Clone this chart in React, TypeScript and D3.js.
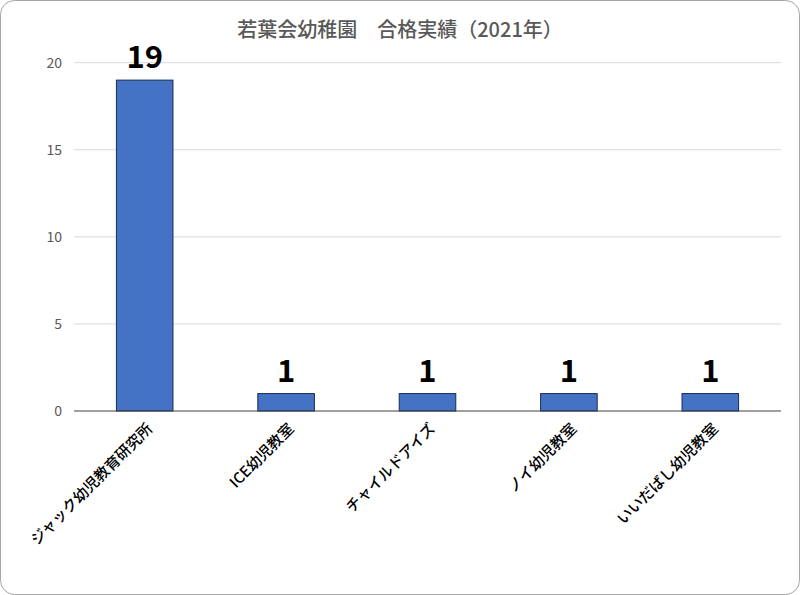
import React from 'react';
import * as d3 from 'd3';

const title = '若葉会幼稚園　合格実績（2021年）';
const schools = ['ジャック幼児教育研究所', 'ICE幼児教室', 'チャイルドアイズ', 'ノイ幼児教室', 'いいだばし幼児教室'];
const passes = [19, 1, 1, 1, 1];
const yTicks = [0, 5, 10, 15, 20];

const width = 800;
const height = 595;
const font = '"Noto Sans CJK JP", "Noto Sans", sans-serif';

const App: React.FC = () => {
    const left = 74;
    const right = 781;
    const top = 62.7;
    const bottom = 411;

    const xScale = d3.scaleBand<string>()
        .domain(schools)
        .range([left, right])
        .paddingInner(0.6)
        .paddingOuter(0.3);

    const yScale = d3.scaleLinear()
        .domain([0, 20])
        .range([bottom, top]);

    return (
        <svg width={width} height={height} style={{ position: 'absolute', left: 0, top: 0, background: 'white' }}>
            <rect x={0.5} y={0.5} width={width - 1} height={height - 1} rx={14} fill="white" stroke="#a6a6a6" />
            <text x={400} y={37} textAnchor="middle" fontFamily={font} fontSize={20} fontWeight={500} fill="#595959">
                {title}
            </text>

            {/* gridlines + y labels */}
            {yTicks.map(t => (
                <g key={t}>
                    {t > 0 && <line x1={left} x2={right} y1={yScale(t)} y2={yScale(t)} stroke="#d9d9d9" strokeWidth={1} />}
                    <text x={62} y={yScale(t)} dy="0.35em" textAnchor="end" fontFamily={font} fontSize={14} fill="#595959">{t}</text>
                </g>
            ))}

            {/* bars */}
            {schools.map((s, i) => (
                <g key={s}>
                    <rect
                        x={xScale(s)}
                        y={yScale(passes[i])}
                        width={xScale.bandwidth()}
                        height={bottom - yScale(passes[i])}
                        fill="#4472c4"
                        stroke="#172c51"
                        strokeWidth={1}
                    />
                    <text
                        x={(xScale(s) || 0) + xScale.bandwidth() / 2}
                        y={yScale(passes[i]) - 12}
                        textAnchor="middle"
                        fontFamily={font}
                        fontSize={31}
                        fontWeight={700}
                        fill="#000"
                    >{passes[i]}</text>
                    <text
                        transform={`translate(${(xScale(s) || 0) + xScale.bandwidth() / 2 + 5},${bottom + 15}) rotate(-45)`}
                        textAnchor="end"
                        dy="0.35em"
                        fontFamily={font}
                        fontSize={15}
                        fontWeight={500}
                        fill="#000"
                    >{s}</text>
                </g>
            ))}

            {/* x axis line */}
            <line x1={left} x2={right} y1={bottom} y2={bottom} stroke="#404040" strokeWidth={1} />
        </svg>
    );
};

export default App;
